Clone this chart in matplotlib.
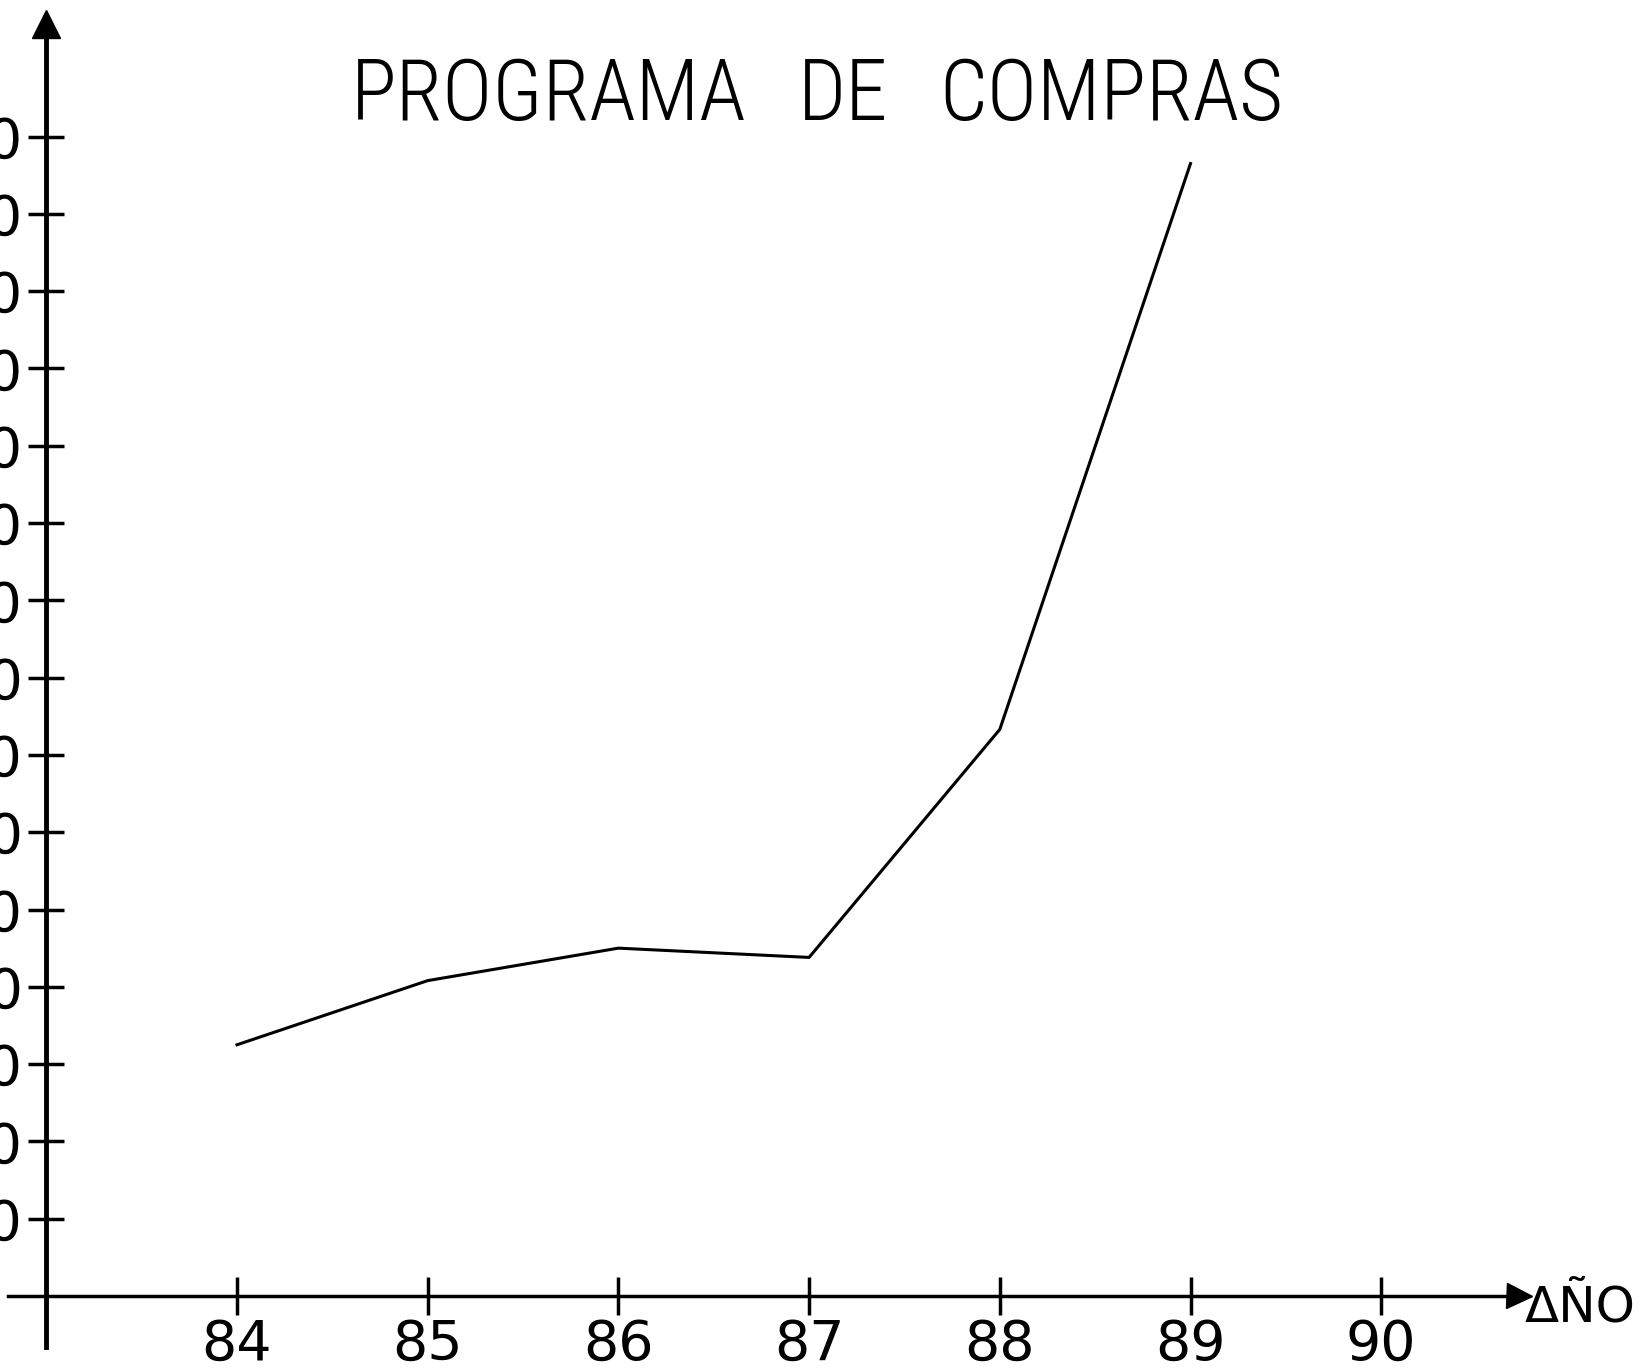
import matplotlib
matplotlib.use("Agg")
import numpy as np
from matplotlib import pyplot as plt
from matplotlib import font_manager

years = np.array([84, 85, 86, 87, 88, 89])
compras = np.array([325, 408, 450, 438, 733, 1465])
xTicks = [84, 85, 86, 87, 88, 89, 90]
yTicks = [100, 200, 300, 400, 500, 600, 700, 800, 900, 1000, 1100, 1200, 1300, 1400, 1500]
titleWords = ["PROGRAMA", "DE", "COMPRAS"]

names = {f.name for f in font_manager.fontManager.ttflist}
titleFont = "DejaVu Sans"
for cand in ["Liberation Sans Narrow", "Roboto Condensed", "DejaVu Sans Condensed", "Roboto"]:
    if cand in names:
        titleFont = cand
        break

fig = plt.figure(figsize=(16.5, 13.69), dpi=100)
ax = fig.add_axes([0, 0, 1, 1])
ax.set_facecolor("white")

# pixel layout of the scanned sheet
xmin = 84 - 237 / 190.7
ymin = -73 / 0.773
ax.set_xlim(xmin, xmin + 1650 / 190.7)
ax.set_ylim(ymin, ymin + 1369 / 0.773)

ax.plot(years, compras, color="black", lw=2.2)

for s in ["top", "right"]:
    ax.spines[s].set_visible(False)
ax.spines["left"].set_position(("data", 83.0))
ax.spines["bottom"].set_position(("data", 0))
ax.spines["left"].set_bounds(-66, 1650)
ax.spines["bottom"].set_bounds(82.8, 90.75)
ax.spines["left"].set_linewidth(3.5)
ax.spines["bottom"].set_linewidth(2.5)

ax.set_xticks(xTicks)
ax.set_xticklabels([str(t) for t in xTicks])
ax.set_yticks(yTicks)
ax.set_yticklabels([str(t) for t in yTicks])
ax.tick_params(axis="x", direction="inout", length=28, width=2.5, labelsize=40, pad=2)
ax.tick_params(axis="y", direction="inout", length=26, width=2.5, labelsize=40, pad=4)

# arrow heads
ax.plot([83.0], [1645], marker="^", color="black", markersize=20, clip_on=False)
ax.plot([90.72], [0], marker=">", color="black", markersize=18, clip_on=False)
fig.text(1525 / 1650, 1 - 1322 / 1369, "ΔÑO", fontsize=36, ha="left", va="baseline",
         family="DejaVu Sans")

# title words
titleX = [549, 843, 1111]
for w, px in zip(titleWords, titleX):
    fig.text(px / 1650, 1 - 97 / 1369, w, fontsize=61, family=titleFont,
             weight="light", ha="center", va="center")

fig.savefig("out.png", dpi=100)
